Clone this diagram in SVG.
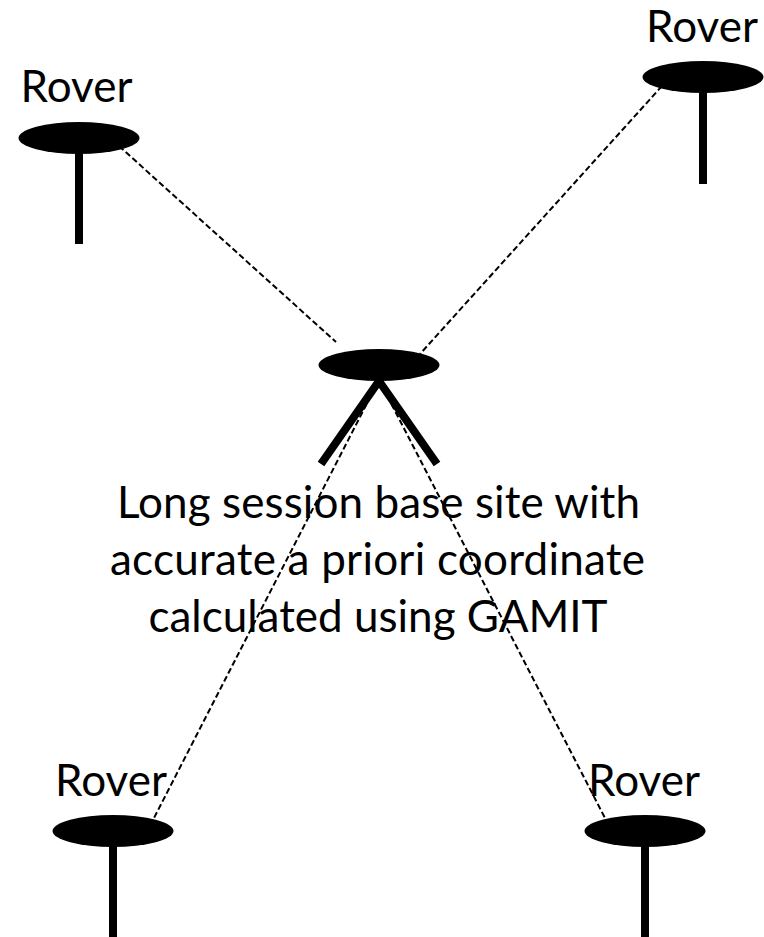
<svg xmlns="http://www.w3.org/2000/svg" width="764" height="937" viewBox="0 0 764 937">
<style>
.l{font-family:Lato,"Open Sans","Liberation Sans",sans-serif;font-size:44px;fill:#000;text-anchor:middle}
.d{stroke:#000;stroke-width:2;stroke-dasharray:6 3;fill:none}
.p{stroke:#000;stroke-width:8;fill:none}
</style>
<rect width="764" height="937" fill="#fff"/>
<g id="connectors">
<path class="d" d="M119 146L336 342"/>
<path class="d" d="M662 86L420 354"/>
<path class="d" d="M379 380L154 818"/>
<path class="d" d="M379 380L606 820"/>
</g>
<g id="rover-tl"><ellipse cx="79" cy="138" rx="60.500" ry="16"/><path class="p" d="M79 138V244"/><text class="l" x="76.500" y="102">Rover</text></g>
<g id="rover-tr"><ellipse cx="703" cy="77" rx="60.500" ry="16"/><path class="p" d="M703 77V184"/><text class="l" x="702" y="42">Rover</text></g>
<g id="base"><ellipse cx="379" cy="365" rx="60.500" ry="16"/><path class="p" d="M379 381L321 464M379 381L437 464"/>
<text class="l" x="378.500" y="518" textLength="523" lengthAdjust="spacing">Long session base site with</text>
<text class="l" x="377.500" y="575" textLength="535" lengthAdjust="spacing">accurate a priori coordinate</text>
<text class="l" x="378" y="632">calculated using GAMIT</text></g>
<g id="rover-bl"><ellipse cx="113" cy="831" rx="60.500" ry="16"/><path class="p" d="M113 831V937"/><text class="l" x="111" y="796">Rover</text></g>
<g id="rover-br"><ellipse cx="645" cy="831" rx="60.500" ry="16"/><path class="p" d="M645 831V937"/><text class="l" x="644" y="796">Rover</text></g>
</svg>
